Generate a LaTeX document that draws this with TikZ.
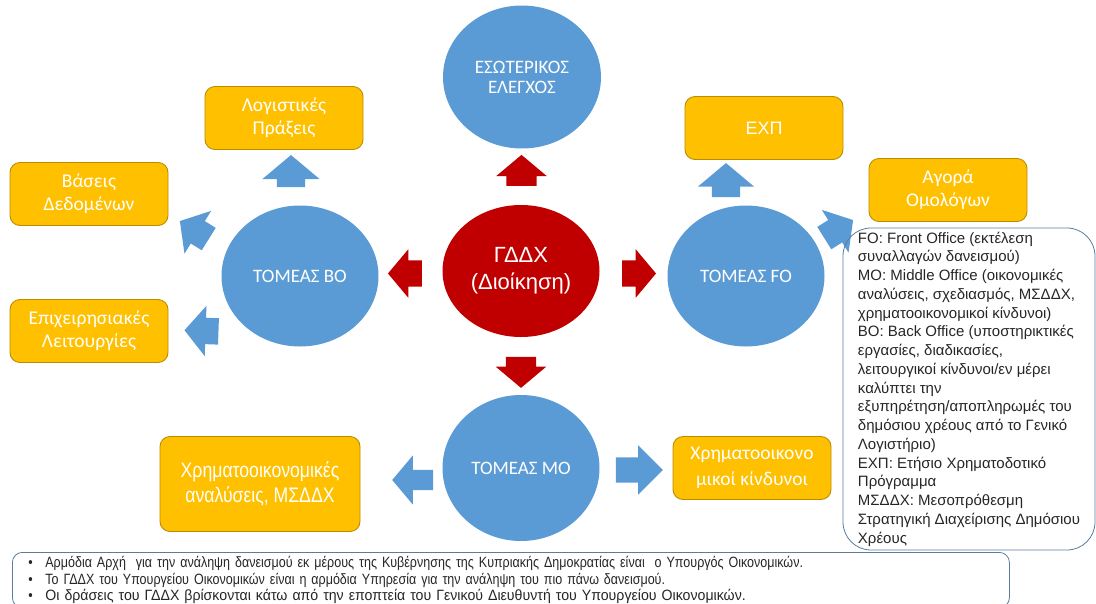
\documentclass[tikz,border=0pt]{standalone}
\usepackage{fontspec}
\setmainfont{Liberation Sans}
\newfontfamily\carlito{Carlito}
\newfontfamily\condensed[FakeStretch=0.84]{Liberation Sans}
\newfontfamily\halfcondensed[FakeStretch=0.95]{Liberation Sans}
\usepackage{tikz}
\usepackage{xcolor}
\usetikzlibrary{calc,positioning,shapes.arrows,shapes.geometric}
\definecolor{sectorblue}{HTML}{5B9BD5}
\definecolor{headred}{HTML}{C00000}
\definecolor{taskgold}{HTML}{FFC000}
\definecolor{taskrim}{HTML}{BC8C00}
\definecolor{noterim}{HTML}{5A7D9E}
\definecolor{notetext}{HTML}{262626}
\tikzset{%
  sector/.style={ellipse,fill=sectorblue,text=white,inner sep=0pt,minimum width=157pt,minimum height=141pt,align=center,font=\carlito\fontsize{19}{20}\selectfont},
  head/.style={sector,fill=headred,minimum height=132pt,font=\fontsize{22}{27}\selectfont},
  task/.style={rectangle,rounded corners=10pt,draw=taskrim,line width=0.9pt,fill=taskgold,text=white,minimum width=158pt,minimum height=63pt,align=center,font=\carlito\fontsize{19.5}{23}\selectfont},
  fat/.style={single arrow,fill=sectorblue,inner xsep=0pt,inner ysep=13pt,minimum height=34pt,single arrow head extend=12pt,single arrow tip angle=100},
  redfat/.style={fat,fill=headred,single arrow head extend=11pt},
  note/.style={rectangle,draw=noterim,line width=0.8pt,text=notetext,align=left},
}
\newcommand{\bull}{\makebox[17pt][l]{\textbullet}}

\begin{document}
\begin{tikzpicture}[x=1pt,y=-1pt]
  \useasboundingbox (0,0) rectangle (1096,603);

  \node[sector,minimum width=158pt,minimum height=143pt] (ctl) at (522,77) {ΕΣΩΤΕΡΙΚΟΣ\\ΕΛΕΓΧΟΣ};
  \node[head] (gddx) at (521,271) {ΓΔΔΧ\\(Διοίκηση)};
  \node[sector] (bo) at (300,276) {ΤΟΜΕΑΣ ΒΟ};
  \node[sector] (fo) at (746,276) {ΤΟΜΕΑΣ FO};
  \node[sector,minimum height=146pt] (mo) at (521,468) {ΤΟΜΕΑΣ ΜΟ};

  \node[task] (acc) at (284,118) {Λογιστικές\\Πράξεις};
  \node[task] (db) at (89,194) {Βάσεις\\Δεδομένων};
  \node[task] (ops) at (89,331) {Επιχειρησιακές\\Λειτουργίες};
  \node[task,font=\fontsize{18}{23}\selectfont] (exp) at (764,128) {ΕΧΠ};
  \node[task] (bonds) at (948,190) {Αγορά\\Ομολόγων};
  \node[task,minimum width=200pt,minimum height=95pt,font=\condensed\fontsize{21}{25}\selectfont] (fin) at (260,484) {Χρηματοοικονομικές\\αναλύσεις, ΜΣΔΔΧ};
  \node[task,font=\carlito\fontsize{19.5}{26}\selectfont] (risk) at (752,468) {Χρηματοοικονο\\μικοί κίνδυνοι};

  \node[redfat,rotate=90,inner ysep=15pt,single arrow head extend=10pt,minimum height=31pt] (toctl) at ($(gddx.north)!0.5!(ctl.south)$) {};
  \node[redfat,rotate=180] (tobo) at ($(gddx.west)!0.5!(bo.east)$) {};
  \node[redfat] (tofo) at ($(gddx.east)!0.5!(fo.west)$) {};
  \node[redfat,rotate=-90,inner ysep=15pt,single arrow head extend=10pt,minimum height=31pt] (tomo) at ($(gddx.south)!0.5!(mo.north)$) {};

  \node[fat,rotate=90,inner ysep=14pt,single arrow head extend=14.5pt,minimum height=32pt] (toacc) at (291,177) {};
  \node[fat,rotate=148] (todb) at (199,233) {};
  \node[fat,rotate=178] (toops) at (207,331) {};
  \node[fat,rotate=90,inner ysep=14pt,single arrow head extend=14pt] (toexp) at (726,186) {};
  \node[fat,rotate=32] (tobonds) at (834,232) {};
  \node[fat,rotate=180,minimum height=41pt,inner ysep=10pt,single arrow head extend=14.5pt] (tofin) at (417,480) {};
  \node[fat,minimum height=47pt,inner ysep=12.5pt,single arrow tip angle=90] (torisk) at (633,470) {};

  \node[note,rounded corners=28pt,minimum width=252pt,minimum height=322pt,inner xsep=0pt,font=\fontsize{15}{18.75}\selectfont] (legend) at (969,389) {FO: Front Office (εκτέλεση\\συναλλαγών δανεισμού)\\MO: Middle Office (οικονομικές\\αναλύσεις, σχεδιασμός, ΜΣΔΔΧ,\\χρηματοοικονομικοί κίνδυνοι)\\BO: Back Office (υποστηρικτικές\\εργασίες, διαδικασίες,\\λειτουργικοί κίνδυνοι/εν μέρει\\καλύπτει την\\εξυπηρέτηση/αποπληρωμές του\\δημόσιου χρέους από το Γενικό\\Λογιστήριο)\\ΕΧΠ: Ετήσιο Χρηματοδοτικό\\Πρόγραμμα\\ΜΣΔΔΧ: Μεσοπρόθεσμη\\Στρατηγική Διαχείρισης Δημόσιου\\Χρέους};
  \node[note,rounded corners=10pt,anchor=north west,inner xsep=16pt,inner ysep=4pt,text width=965pt,font=\condensed\fontsize{14.9}{16.5}\selectfont] (remarks) at (12,552) {\bull Αρμόδια Αρχή\ \ για την ανάληψη δανεισμού εκ μέρους της Κυβέρνησης της Κυπριακής Δημοκρατίας είναι\ \ ο Υπουργός Οικονομικών.\\\bull Το ΓΔΔΧ του Υπουργείου Οικονομικών είναι η αρμόδια Υπηρεσία για την ανάληψη του πιο πάνω δανεισμού.\\\bull {\halfcondensed Οι δράσεις του ΓΔΔΧ βρίσκονται κάτω από την εποπτεία του Γενικού Διευθυντή του Υπουργείου Οικονομικών.}\\[12pt]};
\end{tikzpicture}
\end{document}
